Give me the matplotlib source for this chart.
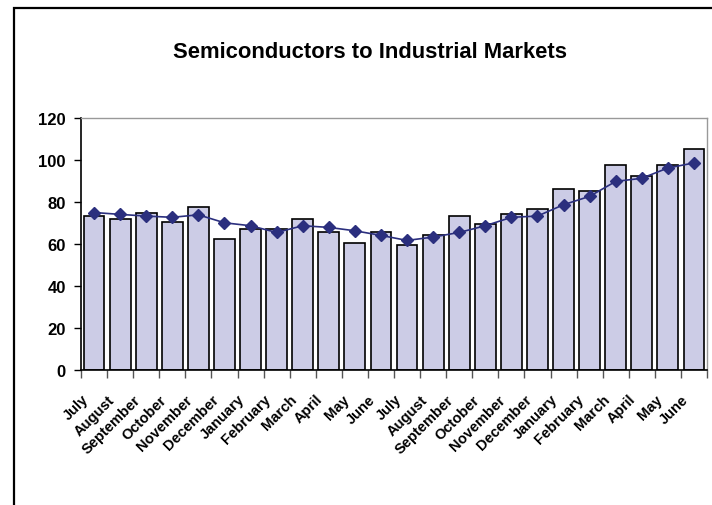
import numpy as np
import matplotlib.pyplot as plt
from matplotlib.patches import Rectangle
from matplotlib.transforms import ScaledTranslation

plt.rcParams['font.family'] = ['Liberation Sans', 'DejaVu Sans']

# Monthly data, two fiscal years (July - June)
months = ['July', 'August', 'September', 'October', 'November', 'December',
          'January', 'February', 'March', 'April', 'May', 'June',
          'July', 'August', 'September', 'October', 'November', 'December',
          'January', 'February', 'March', 'April', 'May', 'June']
sales = [73.4, 72.0, 75.0, 70.3, 77.4, 62.6, 67.2, 67.2, 72.0, 65.7, 60.3, 65.8,
         59.5, 64.1, 73.4, 69.5, 74.2, 76.8, 86.0, 85.2, 97.5, 92.2, 97.5, 105.4]
trend = [75.0, 74.1, 73.3, 72.7, 73.9, 70.1, 68.7, 65.5, 68.7, 67.9, 66.3, 64.1,
         61.7, 63.3, 65.5, 68.7, 72.7, 73.3, 78.7, 82.7, 89.8, 91.3, 96.2, 98.6]
yticks = [0, 20, 40, 60, 80, 100, 120]

W, H = 712, 506
fig = plt.figure(figsize=(W / 100, H / 100), dpi=100)
ax = fig.add_axes([81 / W, 1 - 371 / H, 626 / W, 252 / H])

x = np.arange(len(months))
ax.bar(x, sales, width=0.8, color='#CCCCE6', edgecolor='black', linewidth=1.2, zorder=2)
ax.plot(x, trend, color='#2B2F7E', linewidth=1.2, marker='D', markersize=6.5,
        markerfacecolor='#2B2F7E', markeredgecolor='#2B2F7E', zorder=3)

ax.set_xlim(-0.5, len(months) - 0.5)
ax.set_ylim(0, 120)
ax.set_yticks(yticks)
ax.set_yticklabels([str(v) for v in yticks], fontsize=12, fontweight='bold')
ax.tick_params(axis='y', direction='out', length=5, width=1, pad=6)

# category labels at the centres, tick marks on the boundaries
ax.set_xticks(x)
ax.set_xticklabels(months, rotation=45, ha='right', va='top', rotation_mode='anchor',
                   fontsize=10.5, fontweight='bold')
ax.tick_params(axis='x', which='major', length=0, pad=0)
shift = ScaledTranslation(-0.13, -0.22, fig.dpi_scale_trans)
for lbl in ax.get_xticklabels():
    lbl.set_transform(lbl.get_transform() + shift)
ax.set_xticks(np.arange(-0.5, len(months)), minor=True)
ax.tick_params(axis='x', which='minor', direction='out', length=6, width=1, color='#555555')

for side in ['top', 'right']:
    ax.spines[side].set_color('#999999')
    ax.spines[side].set_linewidth(1)
for side in ['left', 'bottom']:
    ax.spines[side].set_color('black')
    ax.spines[side].set_linewidth(1.2)

fig.text(370 / W, 1 - 53 / H, 'Semiconductors to Industrial Markets', ha='center', va='center',
         fontsize=15.8, fontweight='bold')

# outer chart-area frame (cropped on right and bottom)
fig.add_artist(Rectangle((14 / W, -0.1), 1.0, 1.1 - 9 / H, transform=fig.transFigure,
                         fill=False, edgecolor='black', linewidth=1.6, clip_on=False))

fig.savefig('out.png', dpi=100)
